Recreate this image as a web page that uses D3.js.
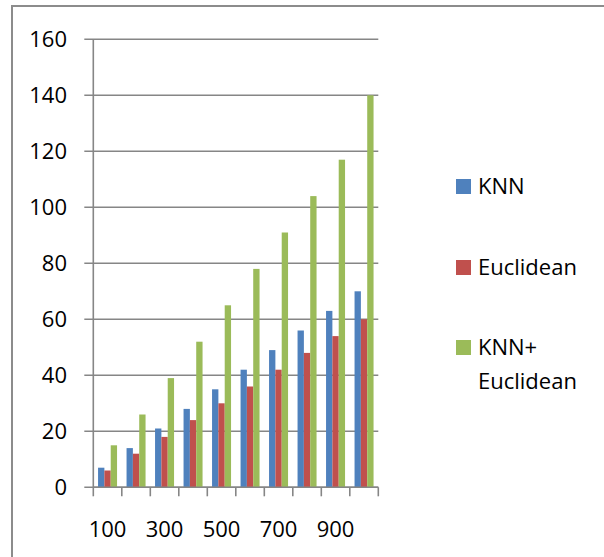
<!DOCTYPE html>
<html><head><meta charset="utf-8">
<script src="https://cdn.jsdelivr.net/npm/d3@7"></script>
<style>body{margin:0;background:#fff}svg{display:block}text{font-family:"Open Sans",Lato,sans-serif;fill:#000}</style>
</head><body>
<script>
const categories = ["100","200","300","400","500","600","700","800","900","1000"];
const knn = [7,14,21,28,35,42,49,56,63,70];
const euclidean = [6,12,18,24,30,36,42,48,54,60];
const knnEuclidean = [15,26,39,52,65,78,91,104,117,140];
const seriesNames = ["KNN","Euclidean","KNN+ Euclidean"];
const colors = ["#4F81BD","#C0504D","#9BBB59"];
const yTicks = [0,20,40,60,80,100,120,140,160];
const xLabelShown = ["100","300","500","700","900"];

(function(){
const W=604,H=557;
const svg=d3.select("body").append("svg").attr("width",W).attr("height",H);
svg.append("rect").attr("width",W).attr("height",H).attr("fill","#fff");
// outer frame
svg.append("rect").attr("x",12).attr("y",6).attr("width",W+20).attr("height",H+20)
  .attr("fill","none").attr("stroke","#8c8c8c").attr("stroke-width",2);

const pL=93.3,pR=378.3,pT=39.3,pB=487.3;
const x=d3.scaleBand().domain(categories).range([pL,pR]).paddingInner(0).paddingOuter(0);
const y=d3.scaleLinear().domain([0,160]).range([pB,pT]);
const x1=d3.scaleBand().domain(d3.range(3)).range([0,x.bandwidth()]).paddingOuter(0.75).paddingInner(0);

const fs=22;
// gridlines + y ticks
svg.append("g").selectAll("line").data(yTicks).join("line")
  .attr("x1",pL-9).attr("x2",pR).attr("y1",d=>y(d)).attr("y2",d=>y(d))
  .attr("stroke","#868686").attr("stroke-width",1.6);
svg.append("g").selectAll("text").data(yTicks).join("text")
  .attr("x",67).attr("y",d=>y(d)+7.8).attr("text-anchor","end").attr("font-size",fs).text(d=>d);

// bars
const series=[knn,euclidean,knnEuclidean];
series.forEach((vals,si)=>{
  svg.append("g").selectAll("rect").data(vals).join("rect")
    .attr("x",(d,i)=>x(categories[i])+x1(si))
    .attr("width",x1.bandwidth())
    .attr("y",d=>y(d)).attr("height",d=>pB-y(d))
    .attr("fill",colors[si]);
});

// y axis line
svg.append("line").attr("x1",pL).attr("x2",pL).attr("y1",pT).attr("y2",pB)
  .attr("stroke","#868686").attr("stroke-width",1.6);
// x axis line + ticks
svg.append("line").attr("x1",pL).attr("x2",pR).attr("y1",pB).attr("y2",pB)
  .attr("stroke","#868686").attr("stroke-width",1.6);
const bounds=categories.map(c=>x(c)).concat([pR]);
svg.append("g").selectAll("line").data(bounds).join("line")
  .attr("x1",d=>d).attr("x2",d=>d).attr("y1",pB).attr("y2",pB+9)
  .attr("stroke","#868686").attr("stroke-width",1.6);
svg.append("g").selectAll("text").data(xLabelShown).join("text")
  .attr("x",d=>x(d)+x.bandwidth()/2).attr("y",537).attr("text-anchor","middle")
  .attr("font-size",fs).text(d=>d);

// legend
const legY=[186.5,267.5,347.5];
const leg=svg.append("g");
seriesNames.forEach((n,i)=>{
  leg.append("rect").attr("x",456).attr("y",legY[i]-7.5).attr("width",15).attr("height",15).attr("fill",colors[i]);
  const words = i===2 ? ["KNN+","Euclidean"] : [n];
  words.forEach((w,j)=>{
    leg.append("text").attr("x",478).attr("y",legY[i]+7.8+j*34).attr("font-size",fs).text(w);
  });
});
})();
</script>
</body></html>
